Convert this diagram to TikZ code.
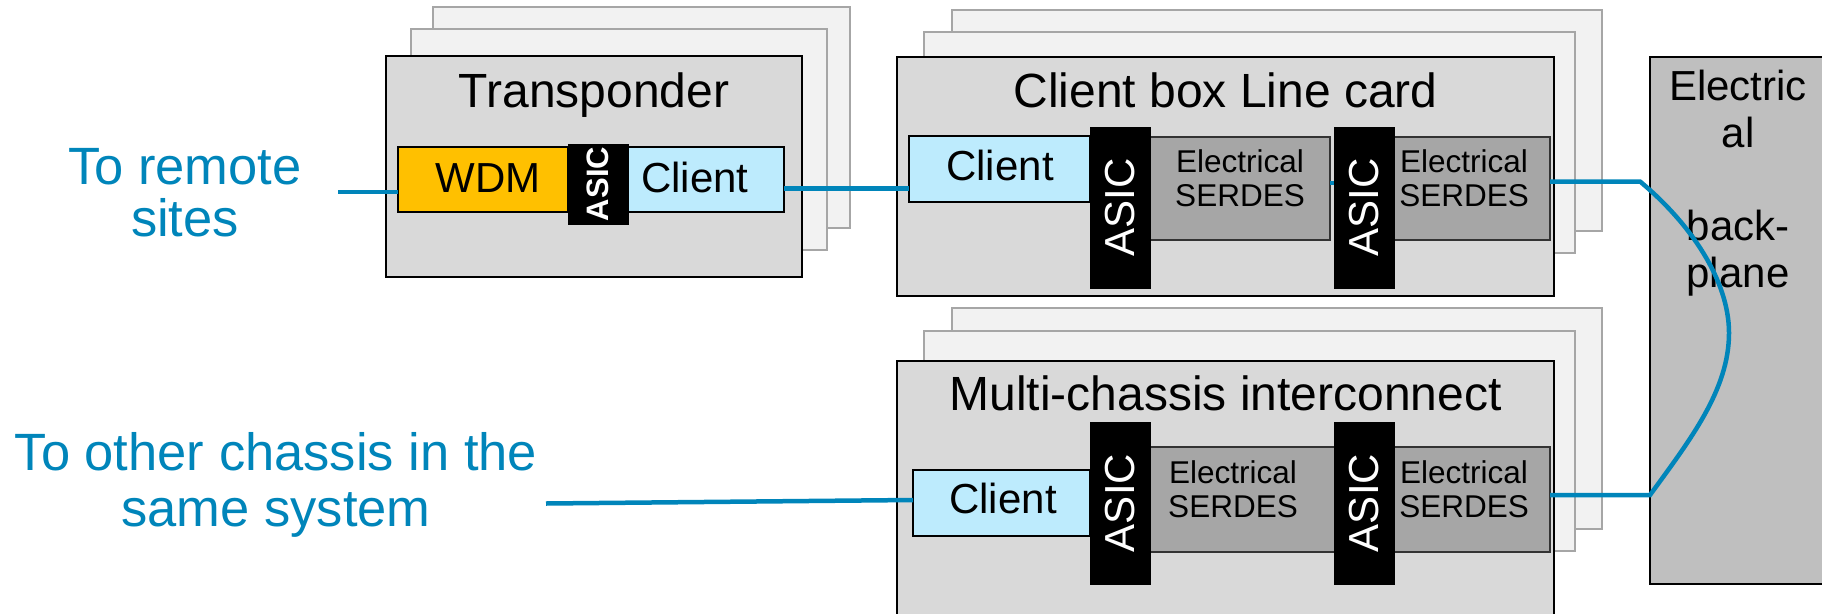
\documentclass[tikz,border=0pt]{standalone}
\usepackage{fontspec}
\setmainfont{Liberation Sans}

\definecolor{cardback}{HTML}{F2F2F2}
\definecolor{cardedge}{HTML}{A6A6A6}
\definecolor{cardfill}{HTML}{D9D9D9}
\definecolor{serdesfill}{HTML}{A6A6A6}
\definecolor{planefill}{HTML}{BFBFBF}
\definecolor{clientfill}{HTML}{BDEBFD}
\definecolor{wdmfill}{HTML}{FFC000}
\definecolor{linkblue}{HTML}{0085BA}

\tikzset{
  block/.style={anchor=north west, inner sep=0pt, outer sep=0pt, rectangle},
  backcard/.style={fill=cardback, draw=cardedge, line width=1.5pt},
  card/.style={fill=cardfill, draw=black, line width=2pt},
  clientbox/.style={fill=clientfill, draw=black, line width=2pt},
  wdmbox/.style={fill=wdmfill, draw=black, line width=2pt},
  asicbox/.style={fill=black, draw=black, line width=0.5pt},
  serdesbox/.style={fill=serdesfill, draw=black!80, line width=1.5pt},
  planebox/.style={fill=planefill, draw=black, line width=2pt},
  title/.style={font=\fontsize{48}{50}\selectfont, inner sep=0pt, anchor=base},
  comptext/.style={font=\fontsize{42}{44}\selectfont, inner sep=0pt, anchor=base},
  asictext/.style={font=\fontsize{42}{44}\selectfont, text=white, inner sep=0pt, rotate=90},
  asicsmall/.style={font=\fontsize{31}{33}\selectfont\bfseries, text=white, inner sep=0pt, rotate=90},
  serdestext/.style={font=\fontsize{31.5}{34}\selectfont, inner sep=0pt, anchor=base},
  planetext/.style={font=\fontsize{42}{44}\selectfont, inner sep=0pt, anchor=base},
  bluetext/.style={font=\fontsize{52.5}{54}\selectfont, text=linkblue, inner sep=0pt, anchor=base},
  link/.style={draw=linkblue, line width=4.5pt},
}

% rectangle node from its top-left and bottom-right corners
\newcommand\blk[6]{%
  \node[block, #1, minimum width={#5pt-#3pt}, minimum height={#6pt-#4pt}] (#2) at (#3,#4) {};}
% two-line "Electrical / SERDES" label
\newcommand\serdeslabel[3]{%
  \node[serdestext] (#1a) at (#2,#3) {Electrical};
  \node[serdestext] (#1b) at (#2,#3+34) {SERDES};}

\begin{document}
\begin{tikzpicture}[x=1pt,y=-1pt]
\useasboundingbox (0,0) rectangle (1822,613);
\clip (0,0) rectangle (1822,613);

% ---------------- Transponder ----------------
\blk{backcard}{tpB2}{433}{7}{850}{228}
\blk{backcard}{tpB1}{411}{29}{827}{250}
\blk{card}{tp}{386}{56}{802}{277}
\node[title] (tpT) at (594,107) {Transponder};
\blk{wdmbox}{wdm}{398}{147}{568}{212}
\blk{clientbox}{tpc}{628}{147}{784}{212}
\blk{asicbox}{tpa}{568}{144}{628}{224}
\node[comptext] (wdmT) at (488,192) {WDM};
\node[comptext] (tpcT) at (695,192) {Client};
\node[asicsmall] (tpaT) at (tpa.center) {ASIC};

% ---------------- Client box Line card ----------------
\blk{backcard}{cbB2}{952}{10}{1602}{231}
\blk{backcard}{cbB1}{924}{32}{1575}{253}
\blk{card}{cb}{897}{57}{1554}{296}
\node[title] (cbT) at (1225.5,107) {Client box Line card};
\blk{clientbox}{cbc}{909}{136}{1090}{202}
\blk{serdesbox}{cbs1}{1150}{137}{1330}{240}
\blk{serdesbox}{cbs2}{1394}{137}{1550}{240}
\blk{asicbox}{cba1}{1090}{127}{1150}{288}
\blk{asicbox}{cba2}{1334}{127}{1394}{288}
\node[comptext] (cbcT) at (1000,180) {Client};
\node[asictext] (cba1T) at (cba1.center) {ASIC};
\node[asictext] (cba2T) at (cba2.center) {ASIC};
\serdeslabel{cbs1T}{1240}{172}
\serdeslabel{cbs2T}{1464}{172}

% ---------------- Multi-chassis interconnect ----------------
\blk{backcard}{mcB2}{952}{308}{1602}{529}
\blk{backcard}{mcB1}{924}{331}{1575}{551}
\blk{card}{mc}{897}{361}{1554}{640}
\node[title] (mcT) at (1225.5,410) {Multi-chassis interconnect};
\blk{clientbox}{mcc}{913}{470}{1090}{536}
\blk{serdesbox}{mcs1}{1150}{447}{1350}{552}
\blk{serdesbox}{mcs2}{1350}{447}{1550}{552}
\blk{asicbox}{mca1}{1090}{422}{1150}{584}
\blk{asicbox}{mca2}{1334}{422}{1394}{584}
\node[comptext] (mccT) at (1003,513) {Client};
\node[asictext] (mca1T) at (mca1.center) {ASIC};
\node[asictext] (mca2T) at (mca2.center) {ASIC};
\serdeslabel{mcs1T}{1233}{483}
\serdeslabel{mcs2T}{1464}{483}

% ---------------- Electrical backplane ----------------
\blk{planebox}{bp}{1650}{57}{1840}{584}
\node[planetext] (bpT1) at (1738,100) {Electric};
\node[planetext] (bpT2) at (1738,147) {al};
\node[planetext] (bpT3) at (1738,240) {back-};
\node[planetext] (bpT4) at (1738,287) {plane};

% ---------------- outside labels ----------------
\node[bluetext] (remoteA) at (185,184) {To remote};
\node[bluetext] (remoteB) at (185,236) {sites};
\node[bluetext] (otherA) at (276,470) {To other chassis in the};
\node[bluetext] (otherB) at (276,526) {same system};

% ---------------- links ----------------
\coordinate (remote) at (338,192);
\coordinate (row1) at (0,188.5);
\coordinate (row1b) at (0,183);
\coordinate (bpTop) at (1640,181.5);
\coordinate (bpMid) at (1729,333);
\coordinate (bpBot) at (1650,495);
\coordinate (other) at (546,503.5);
\coordinate (row2) at (0,500);

\draw[link] (remote) -- (remote -| wdm.west);
\draw[link] (tpc.east |- row1) -- (cbc.west |- row1);
\draw[link] (cbs1.east |- row1b) -- (cba2.west |- row1b);
\draw[link] (cbs2.east |- bpTop) -- (bpTop)
  .. controls (1690,223) and (1729,280) .. (bpMid)
  .. controls (1729,390) and (1690,440) .. (bpBot)
  -- (mcs2.east |- bpBot);
\draw[link] (other) -- (mcc.west |- row2);
\end{tikzpicture}
\end{document}
